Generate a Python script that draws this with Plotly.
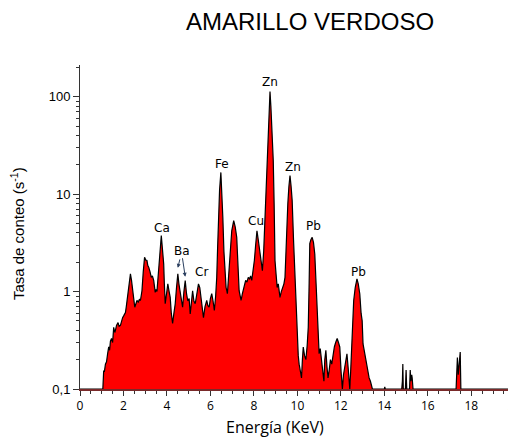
import math
import plotly.graph_objects as go

# XRF spectrum, "amarillo verdoso" pigment
energy = [0.0, 1.0, 1.05, 1.09, 1.12, 1.17, 1.22, 1.27, 1.32, 1.36, 1.40, 1.45, 1.50, 1.55, 1.60,
          1.63, 1.68, 1.75, 1.80, 1.86, 1.91, 1.96, 2.02, 2.09, 2.13, 2.16, 2.22, 2.27, 2.32, 2.37,
          2.42, 2.47, 2.52, 2.57, 2.62, 2.68, 2.73, 2.78, 2.85, 2.91, 2.97, 3.03, 3.08, 3.12, 3.16,
          3.22, 3.28, 3.33, 3.39, 3.46, 3.50, 3.54, 3.58, 3.62, 3.68, 3.74, 3.80, 3.85, 3.88, 3.92,
          3.98, 4.04, 4.10, 4.15, 4.20, 4.26, 4.32, 4.38, 4.44, 4.50, 4.55, 4.61, 4.66, 4.72, 4.78,
          4.84, 4.90, 4.96, 5.02, 5.07, 5.18, 5.24, 5.30, 5.38, 5.45, 5.51, 5.57, 5.62, 5.68, 5.75,
          5.83, 5.88, 5.94, 6.00, 6.06, 6.12, 6.18, 6.24, 6.29, 6.33, 6.37, 6.42, 6.48, 6.52, 6.57,
          6.62, 6.67, 6.72, 6.78, 6.84, 6.90, 6.98, 7.07, 7.14, 7.21, 7.26, 7.32, 7.37, 7.41, 7.47,
          7.52, 7.56, 7.62, 7.68, 7.74, 7.80, 7.85, 7.90, 7.96, 8.02, 8.08, 8.14, 8.20, 8.28, 8.33,
          8.39, 8.45, 8.51, 8.58, 8.66, 8.70, 8.74, 8.78, 8.83, 8.89, 8.93, 8.97, 9.02, 9.07, 9.12,
          9.16, 9.20, 9.26, 9.32, 9.38, 9.43, 9.47, 9.50, 9.56, 9.61, 9.66, 9.71, 9.76, 9.82, 9.89,
          9.94, 9.99, 10.04, 10.08, 10.14, 10.19, 10.23, 10.27, 10.33, 10.39, 10.45, 10.50, 10.54,
          10.57, 10.62, 10.68, 10.74, 10.80, 10.86, 10.91, 10.96, 11.00, 11.05, 11.11, 11.16, 11.22,
          11.26, 11.31, 11.36, 11.41, 11.47, 11.52, 11.58, 11.64, 11.70, 11.76, 11.83, 11.89, 11.95,
          12.01, 12.07, 12.12, 12.18, 12.23, 12.28, 12.34, 12.41, 12.45, 12.49, 12.54, 12.59, 12.66,
          12.74, 12.80, 12.87, 12.93, 12.98, 13.02, 13.08, 13.14, 13.20, 13.25, 13.30, 13.36, 13.45,
          14.0, 14.02, 14.04, 14.80, 14.83, 14.85, 14.87, 14.97, 15.0, 15.03, 15.16, 15.19, 15.22,
          15.26, 15.28, 15.32, 17.30, 17.33, 17.36, 17.40, 17.46, 17.49, 17.52, 20.0]
counts = [0.1, 0.1, 0.1, 0.155, 0.15, 0.18, 0.19, 0.23, 0.27, 0.25, 0.31, 0.33, 0.30, 0.43, 0.38,
          0.40, 0.45, 0.48, 0.44, 0.45, 0.50, 0.54, 0.57, 0.61, 0.70, 0.78, 0.95, 1.25, 1.52, 1.3,
          1.1, 0.85, 0.69, 0.74, 0.81, 0.78, 0.83, 0.81, 1.02, 1.6, 2.25, 2.1, 2.08, 1.85, 1.78,
          1.6, 1.4, 1.45, 1.3, 0.98, 1.05, 1.0, 1.3, 1.64, 2.5, 3.75, 2.6, 1.92, 1.2, 0.75,
          0.95, 1.2, 1.0, 0.87, 0.6, 0.47, 0.6, 0.75, 1.1, 1.52, 1.2, 0.95, 0.8, 0.69, 1.0,
          1.3, 0.95, 0.8, 0.85, 0.59, 1.02, 0.8, 0.75, 1.0, 1.2, 1.1, 0.87, 0.7, 0.54, 0.7,
          0.81, 0.72, 0.69, 0.85, 0.95, 0.8, 0.64, 0.9, 1.4, 2.8, 5.8, 11, 16.7, 11, 5.8,
          2.6, 1.4, 1.1, 0.95, 1.5, 2.63, 4.2, 5.35, 4.6, 3.6, 1.8, 1.02, 0.9, 0.81, 0.95,
          1.05, 1.1, 1.3, 1.25, 1.4, 1.35, 1.45, 1.3, 1.6, 2.08, 3.0, 4.2, 3.4, 2.43, 1.9,
          1.64, 2.6, 5.8, 13, 28, 60, 113, 80, 45, 22, 8, 2.08, 1.5, 1.1, 1.2,
          1.0, 0.87, 1.0, 1.1, 1.2, 1.4, 2.5, 4.6, 8, 12, 15.5, 12, 8.6, 3.5, 1.4,
          0.6, 0.29, 0.22, 0.18, 0.15, 0.13, 0.2, 0.27, 0.22, 0.2, 0.28, 0.43, 1.2,
          3.1, 3.4, 3.6, 3.2, 2.43, 1.2, 0.59, 0.35, 0.23, 0.26, 0.2, 0.16, 0.12,
          0.2, 0.25, 0.17, 0.13, 0.16, 0.2, 0.18, 0.23, 0.27, 0.3, 0.33, 0.3, 0.27,
          0.15, 0.1, 0.14, 0.17, 0.2, 0.23, 0.16, 0.1, 0.15, 0.27, 0.5, 0.81, 1.1,
          1.35, 1.2, 0.95, 0.6, 0.5, 0.29, 0.24, 0.2, 0.17, 0.14, 0.13, 0.12, 0.1,
          0.1, 0.105, 0.1, 0.1, 0.12, 0.18, 0.1, 0.1, 0.157, 0.1, 0.1, 0.157, 0.12,
          0.14, 0.13, 0.1, 0.1, 0.2, 0.21, 0.14, 0.2, 0.24, 0.1, 0.1]

# element labels (energy keV, count level)
peak_names = ['Ca', 'Cr', 'Fe', 'Cu', 'Zn', 'Zn', 'Pb', 'Pb']
peak_x = [3.75, 5.59, 6.53, 8.11, 8.76, 9.82, 10.73, 12.80]
peak_y = [4.5, 1.57, 20.5, 5.35, 142, 19.1, 4.75, 1.57]

# Ba doublet: arrows to the two small peaks
ba_x = [4.50, 4.84]
ba_y = [1.75, 1.42]

x_ticks = [0, 2, 4, 6, 8, 10, 12, 14, 16, 18, 20]
y_ticks = [0.1, 1, 10, 100]
y_ticktext = ['0,1', '1', '10', '100']
y_minor = [0.2, 0.3, 0.4, 0.5, 0.6, 0.7, 0.8, 0.9, 2, 3, 4, 5, 6, 7, 8, 9,
           20, 30, 40, 50, 60, 70, 80, 90, 200]

fig = go.Figure()

# baseline under the axis so the fill stops at 0,1
fig.add_trace(go.Scatter(x=[energy[0], energy[-1]], y=[0.05, 0.05], mode='lines',
                         line=dict(width=0), hoverinfo='skip', showlegend=False))
fig.add_trace(go.Scatter(x=energy, y=counts, mode='lines', fill='tonexty',
                         fillcolor='#ff0000', line=dict(color='black', width=1.2),
                         showlegend=False))

for name, x, y in zip(peak_names, peak_x, peak_y):
    fig.add_annotation(x=x, y=math.log10(y), text=name, showarrow=False,
                       font=dict(family='DejaVu Sans', size=12, color='black'))

fig.add_annotation(x=ba_x[0], y=math.log10(ba_y[0]), text='Ba', showarrow=True,
                   arrowhead=2, arrowsize=0.8, arrowwidth=1, ax=4, ay=-17,
                   font=dict(family='DejaVu Sans', size=12, color='black'))
fig.add_annotation(x=ba_x[1], y=math.log10(ba_y[1]), text='Ba', showarrow=True,
                   arrowhead=2, arrowsize=0.8, arrowwidth=1, ax=-4, ay=-27,
                   font=dict(family='DejaVu Sans', size=12, color='rgba(0,0,0,0)'))

fig.add_annotation(x=0.529, y=1.133, xref='paper', yref='paper', text='AMARILLO VERDOSO',
                   xanchor='center', yanchor='middle', showarrow=False,
                   font=dict(family='Liberation Sans', size=24, color='black'))
fig.add_annotation(x=0.448, y=-0.118, xref='paper', yref='paper', text='Energía (KeV)',
                   xanchor='center', yanchor='middle', showarrow=False,
                   font=dict(family='Open Sans', size=16, color='black'))
fig.add_annotation(x=-0.145, y=0.481, xref='paper', yref='paper',
                   text='Tasa de conteo (s<sup>-1</sup>)', textangle=-90, showarrow=False,
                   xanchor='center', yanchor='middle',
                   font=dict(family='Liberation Sans Narrow, Liberation Sans', size=15,
                             color='black'))

# the page body adds an 8px offset; the figure runs a little past the right edge
# so the last tick label is cut the same way as in the source
fig.update_layout(
    width=516, height=430,
    margin=dict(l=72, r=9, t=57, b=49, autoexpand=False),
    paper_bgcolor='white', plot_bgcolor='white',
    showlegend=False,
)
fig.update_xaxes(range=[0, 20.01], tickvals=x_ticks, showgrid=False, zeroline=False,
                 automargin=False, showline=True, linecolor='#7a2a2a', linewidth=1.5,
                 ticks='outside', ticklen=5, tickcolor='#333', ticklabeloverflow='allow',
                 minor=dict(dtick=0.5, ticks='outside', ticklen=3, tickcolor='#333'),
                 tickfont=dict(family='Open Sans', size=12, color='black'))
fig.update_yaxes(type='log', range=[-1, 2.325], showgrid=False, zeroline=False, automargin=False,
                 showline=True, linecolor='#333', linewidth=1,
                 tickvals=y_ticks, ticktext=y_ticktext,
                 ticks='outside', ticklen=6, tickcolor='#333',
                 minor=dict(tickvals=y_minor, ticks='outside', ticklen=3, tickcolor='#333'),
                 tickfont=dict(family='Liberation Sans', size=13, color='black'))

fig.write_html('out.html')
